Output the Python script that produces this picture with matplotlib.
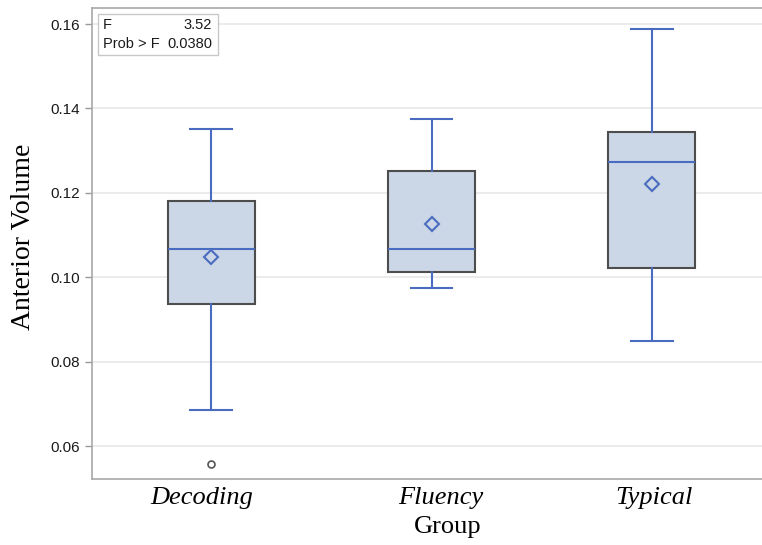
import matplotlib.pyplot as plt
from matplotlib.patches import Rectangle
from matplotlib.transforms import ScaledTranslation

groups = ["Decoding", "Fluency", "Typical"]
whisker_low = [0.0685, 0.0974, 0.0850]
q1 = [0.0937, 0.1012, 0.1022]
medians = [0.1067, 0.1067, 0.1272]
q3 = [0.1181, 0.1252, 0.1345]
whisker_high = [0.1351, 0.1375, 0.1588]
means = [0.1049, 0.1126, 0.1221]
outliers = [[0.0557], [], []]

y_ticks = [0.06, 0.08, 0.10, 0.12, 0.14, 0.16]

blue = "#4a6cc0"
box_face = "#cbd6e6"

stats = []
for i, g in enumerate(groups):
    stats.append({
        "label": g,
        "whislo": whisker_low[i],
        "q1": q1[i],
        "med": medians[i],
        "q3": q3[i],
        "whishi": whisker_high[i],
        "mean": means[i],
        "fliers": outliers[i],
    })

fig = plt.figure(figsize=(7.62, 5.45), dpi=100)
ax = fig.add_axes([92 / 762, 66 / 545, 679 / 762, 471 / 545])

ax.bxp(
    stats,
    positions=range(len(groups)),
    widths=0.395,
    patch_artist=True,
    showmeans=True,
    boxprops=dict(facecolor=box_face, edgecolor="#4d4d4d", linewidth=1.5),
    medianprops=dict(color=blue, linewidth=1.5),
    whiskerprops=dict(color=blue, linewidth=1.5),
    capprops=dict(color=blue, linewidth=1.5),
    capwidths=0.19,
    meanprops=dict(marker="D", markerfacecolor="none", markeredgecolor=blue,
                   markeredgewidth=1.5, markersize=7),
    flierprops=dict(marker="o", markerfacecolor="none", markeredgecolor="#555555",
                    markeredgewidth=1.2, markersize=5),
    zorder=3,
)

ax.set_xlim(-0.54, 2.54)
ax.set_ylim(0.0522, 0.1638)
ax.set_yticks(y_ticks)
ax.set_yticklabels([f"{t:.2f}" for t in y_ticks], fontfamily="Liberation Sans",
                   fontsize=11, color="#1a1a1a")
ax.set_xticks(range(len(groups)))
ax.set_xticklabels(groups, fontfamily="Liberation Serif", style="italic", fontsize=19)
ax.tick_params(axis="x", length=0, pad=6)
ax.tick_params(axis="y", length=5, color="#999999", width=1)

# the category labels sit a little off the box centres in the original
for lbl, dx in zip(ax.get_xticklabels(), [-9, 9, 2]):
    lbl.set_transform(lbl.get_transform() + ScaledTranslation(dx / 100, 0, fig.dpi_scale_trans))

ax.grid(axis="y", color="#e8e8e8", linewidth=1.2, zorder=0)
ax.set_axisbelow(True)
for side in ["left", "bottom", "top"]:
    ax.spines[side].set_color("#a8a8a8")
    ax.spines[side].set_linewidth(1.2)

ax.set_ylabel("Anterior Volume", fontfamily="Liberation Serif", fontsize=20)
ax.yaxis.set_label_coords(-0.082, 0.514)
ax.set_xlabel("Group", fontfamily="Liberation Serif", fontsize=19, labelpad=5)
ax.xaxis.label.set_transform(ax.xaxis.label.get_transform()
                             + ScaledTranslation(16 / 100, 0, fig.dpi_scale_trans))

# stats inset
ax.add_patch(Rectangle((0.0088, 0.900), 0.177, 0.087, transform=ax.transAxes,
                       facecolor="white", edgecolor="#c8c8c8", linewidth=1, zorder=4))
ax.text(0.016, 0.978, "F\nProb > F", transform=ax.transAxes, ha="left", va="top",
        fontfamily="Liberation Sans", fontsize=10.5, color="#1a1a1a", linespacing=1.4,
        zorder=5)
ax.text(0.177, 0.978, "3.52\n0.0380", transform=ax.transAxes, ha="right", va="top",
        fontfamily="Liberation Sans", fontsize=10.5, color="#1a1a1a", linespacing=1.4,
        zorder=5)

fig.savefig("out.png", dpi=100)
